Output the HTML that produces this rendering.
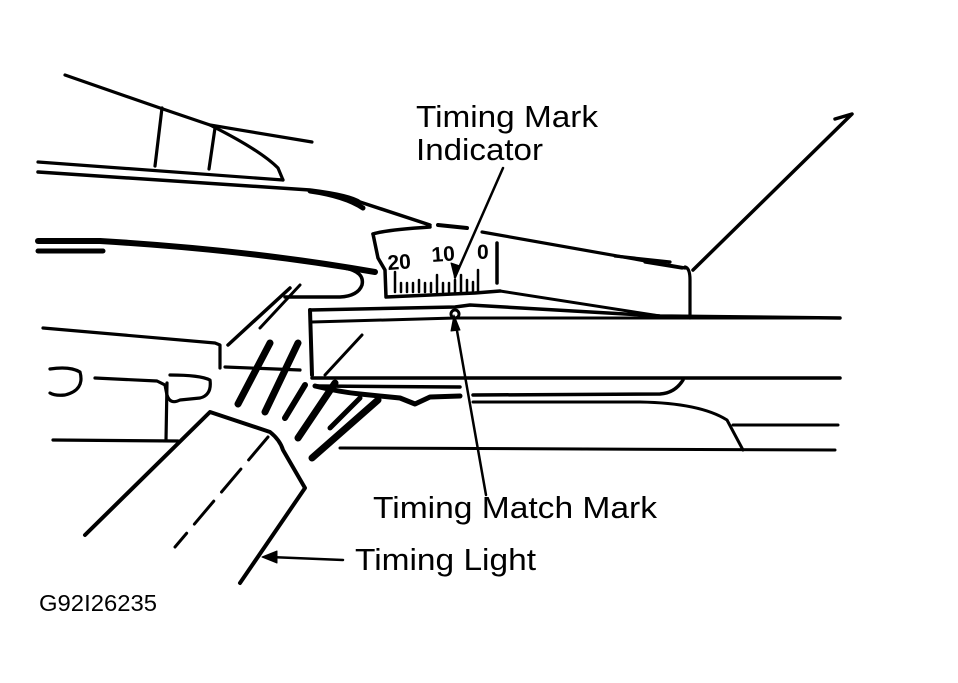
<!DOCTYPE html>
<html><head><meta charset="utf-8"><style>
html,body{margin:0;padding:0;background:#fff;}
svg{display:block;}
text{font-family:"Liberation Sans",sans-serif;fill:#000;}
</style></head><body>
<svg width="958" height="683" viewBox="0 0 958 683" xmlns="http://www.w3.org/2000/svg">
<g fill="none" stroke="#000" stroke-width="3.2" stroke-linecap="round" stroke-linejoin="round">
<!-- upper hood -->
<path d="M65 75 L160 108 L210 125 L312 142"/>
<path d="M162 108 L155 166"/>
<path d="M215 128 L209 169"/>
<path d="M210 125 Q260 150 278 168 L283 180"/>
<path d="M38 162 L283 180"/>
<path d="M38 172 L310 190 Q350 195 360 202 L430 225" stroke-width="3.5"/>
<path d="M310 191 Q345 196 363 208" stroke-width="5"/>
<path d="M438 225 L467 228" stroke-width="4"/>
<path d="M482 232 L685 268"/>
<path d="M615 256 L670 262"/>
<path d="M685 267 Q690 268 690 280 L690 318"/>
<path d="M645 262 L682 268"/>
<path d="M693 270 L852 114 L835 119" stroke-width="3.5"/>
<!-- thick sweep -->
<path d="M38 241 L100 241" stroke-width="6"/>
<path d="M38 251 L103 251" stroke-width="5"/>
<path d="M100 241 Q250 250 375 272" stroke-width="6"/>
<path d="M345 268 Q365 272 362 285 Q358 296 340 297 L285 297" stroke-width="3.5"/>
<!-- scale box -->
<path d="M373 234 Q385 230 430 227" stroke-width="3.5"/>
<path d="M373 234 L378 258 L385 270 L386 297 L475 293 L500 291" stroke-width="3.5"/>
<path d="M497 243 L497 283" stroke-width="3.5"/>
<path d="M500 291 L660 316" stroke-width="3"/>
<g stroke-width="2.5">
<path d="M395 272 V292 M401 283 V292 M407 283 V292 M413 283 V292 M419 280 V292 M425 283 V292 M431 283 V292 M437 275 V292 M443 283 V292 M449 283 V292 M455 280 V292 M461 275 V292 M467 280 V292 M473 282 V292 M478 270 V292"/>
</g>
<path d="M503 168 L455 277" stroke-width="2.5"/>
<path d="M455 279 L451 263 L460 266 Z" fill="#000" stroke-width="1"/>
<!-- main rectangle -->
<path d="M310 310 L312 375" stroke-width="4"/>
<path d="M310 310 L455 307 L470 305 L660 316 L840 318" stroke-width="3.5"/>
<path d="M312 322 L455 318 L840 318" stroke-width="3"/>
<circle cx="455" cy="314" r="4" stroke-width="3"/>
<path d="M312 378 L840 378" stroke-width="3.5"/>
<path d="M315 386 L460 387" stroke-width="3.5"/>
<path d="M473 395 L660 394 Q675 393 683 380" stroke-width="3.5"/>
<path d="M315 386 Q340 392 360 394 L400 398 L415 404 L430 397 L460 396" stroke-width="5"/>
<path d="M473 402 L640 402 Q700 403 727 420 L743 450" stroke-width="3"/>
<path d="M733 425 L838 425" stroke-width="3"/>
<path d="M340 448 L835 450" stroke-width="3"/>
<!-- left car -->
<path d="M43 328 L215 343 L220 345 L220 368"/>
<path d="M225 367 L300 370"/>
<path d="M290 288 L228 345" stroke-width="3.5"/>
<path d="M362 335 L325 375" stroke-width="3"/>
<path d="M53 440 L178 441"/>
<path d="M167 383 L166 440"/>
<path d="M50 369 Q70 366 80 372 Q85 390 65 395 Q55 396 50 393"/>
<path d="M95 378 L157 381 L165 385 L167 395 Q170 405 180 400 L200 398 Q212 395 210 380 Q200 375 170 375"/>
<path d="M300 285 L260 328" stroke-width="3"/>
<!-- flash strokes -->
<g stroke-width="7">
<path d="M270 343 L238 404"/>
<path d="M298 343 L265 412"/>
<path d="M305 385 L285 418" stroke-width="6"/>
<path d="M335 383 L298 438"/>
<path d="M378 400 L312 458"/>
<path d="M360 398 L330 428" stroke-width="5"/>
</g>
<!-- timing light -->
<path d="M85 535 L210 412 L270 432 Q280 440 283 450 L305 488 L240 583" stroke-width="4"/>
<path d="M268 437 L175 547" stroke-width="3" stroke-dasharray="30 12"/>
<!-- arrows -->
<path d="M343 560 L270 557" stroke-width="2.5"/>
<path d="M262 557 L277 551 L277 563 Z" fill="#000" stroke-width="1"/>
<path d="M486 495 L456 325" stroke-width="2.5"/>
<path d="M454 315 L451 331 L460 330 Z" fill="#000" stroke-width="1"/>
</g>
<g font-family="Liberation Sans, sans-serif" font-weight="bold" font-size="21">
<text x="388" y="270" transform="rotate(-4 388 270)">20</text>
<text x="432" y="262" transform="rotate(-4 432 262)">10</text>
<text x="477" y="259">0</text>
</g>
<text x="416" y="127" font-size="31" textLength="182" lengthAdjust="spacingAndGlyphs">Timing Mark</text>
<text x="416" y="160" font-size="31" textLength="127" lengthAdjust="spacingAndGlyphs">Indicator</text>
<text x="373" y="518" font-size="31" textLength="284" lengthAdjust="spacingAndGlyphs">Timing Match Mark</text>
<text x="355" y="570" font-size="31" textLength="181" lengthAdjust="spacingAndGlyphs">Timing Light</text>
<text x="39" y="611" font-size="23" textLength="118" lengthAdjust="spacingAndGlyphs">G92I26235</text>
</svg>
</body></html>
